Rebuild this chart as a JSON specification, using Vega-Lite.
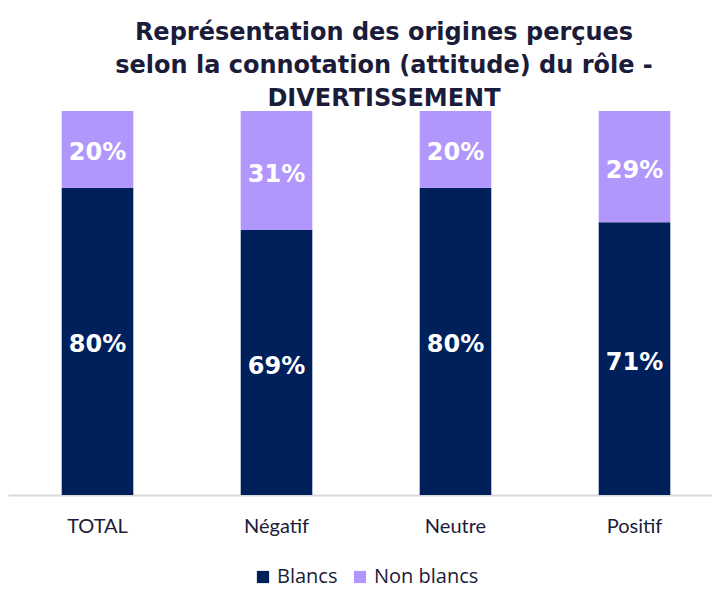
{
  "$schema": "https://vega.github.io/schema/vega-lite/v6.json",
  "autosize": {"type": "none"},
  "width": 716,
  "height": 384,
  "padding": {"left": 8, "top": 111, "right": 0, "bottom": 114},
  "background": "white",
  "title": {
    "text": ["Représentation  des origines perçues", "selon la connotation (attitude) du rôle -", "DIVERTISSEMENT"],
    "anchor": "middle",
    "dx": 18,
    "offset": 0,
    "font": "DejaVu Sans",
    "fontSize": 24,
    "fontWeight": "bold",
    "lineHeight": 33,
    "color": "#1b1c3a"
  },
  "data": {
    "values": [
      {"cat": "TOTAL", "group": "Blancs", "value": 0.80, "order": 1},
      {"cat": "TOTAL", "group": "Non blancs", "value": 0.20, "order": 2},
      {"cat": "Négatif", "group": "Blancs", "value": 0.69, "order": 1},
      {"cat": "Négatif", "group": "Non blancs", "value": 0.31, "order": 2},
      {"cat": "Neutre", "group": "Blancs", "value": 0.80, "order": 1},
      {"cat": "Neutre", "group": "Non blancs", "value": 0.20, "order": 2},
      {"cat": "Positif", "group": "Blancs", "value": 0.71, "order": 1},
      {"cat": "Positif", "group": "Non blancs", "value": 0.29, "order": 2}
    ]
  },
  "encoding": {
    "x": {
      "field": "cat",
      "type": "nominal",
      "sort": ["TOTAL", "Négatif", "Neutre", "Positif"],
      "scale": {"paddingInner": 0.6, "paddingOuter": 0.3},
      "axis": {
        "title": null,
        "labelAngle": 0,
        "labelFont": "Lato",
        "labelFontSize": 20,
        "labelColor": "#1b1c3a",
        "labelPadding": 21,
        "ticks": false,
        "domainColor": "#d9d9d9",
        "domainWidth": 2,
        "grid": false
      }
    },
    "y": {
      "field": "value",
      "type": "quantitative",
      "stack": "zero",
      "scale": {"domain": [0, 1]},
      "axis": null
    },
    "order": {"field": "order", "type": "quantitative"}
  },
  "layer": [
    {
      "mark": {"type": "bar"},
      "encoding": {
        "color": {
          "field": "group",
          "type": "nominal",
          "scale": {"domain": ["Blancs", "Non blancs"], "range": ["#00205c", "#b196fc"]},
          "legend": {
            "title": null,
            "orient": "bottom",
            "direction": "horizontal",
            "symbolType": "square",
            "symbolSize": 150,
            "symbolStrokeWidth": 0,
            "labelFont": "Open Sans",
            "labelFontSize": 20,
            "labelColor": "#1b1c3a",
            "columnPadding": 12,
            "offset": 31
          }
        }
      }
    },
    {
      "mark": {"type": "text", "color": "white", "font": "DejaVu Sans", "fontWeight": "bold", "fontSize": 24, "dy": 4},
      "encoding": {
        "y": {"field": "value", "type": "quantitative", "stack": "zero", "bandPosition": 0.5},
        "text": {"field": "value", "type": "quantitative", "format": ".0%"}
      }
    }
  ],
  "config": {
    "view": {"stroke": null},
    "legend": {"layout": {"bottom": {"anchor": "middle"}}}
  }
}
